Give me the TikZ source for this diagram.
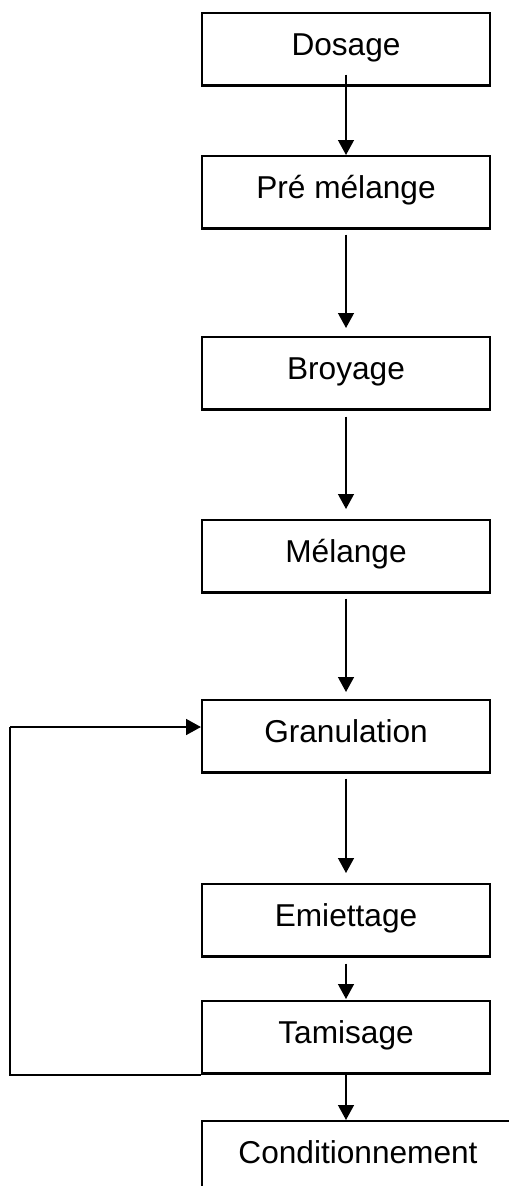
\documentclass[tikz,border=0pt]{standalone}
\usepackage{fontspec}
\setmainfont{Liberation Sans}
\usetikzlibrary{arrows.meta}
\newcommand{\boxfont}{\fontsize{18}{21.6}\selectfont}
\begin{document}
\begin{tikzpicture}[
  x=0.02cm, y=-0.02cm,
  stepbox/.style={draw, line width=1.2pt, minimum width=5.76cm, minimum height=1.45cm,
    inner sep=0pt, font=\boxfont, text height=12pt, text depth=4.6pt, anchor=north},
  arr/.style={line width=1pt, -{Triangle[width=9pt,length=8.5pt]}},
  link/.style={line width=1.2pt}
]
\useasboundingbox (0,0) rectangle (509,1186);
\clip (0,0) rectangle (509,1186);

% process steps
\node[stepbox] (dos) at (346,12)   {Dosage};
\node[stepbox] (pre) at (346,155)  {Pré mélange};
\node[stepbox] (bro) at (346,336)  {Broyage};
\node[stepbox] (mel) at (346,519)  {Mélange};
\node[stepbox] (gra) at (346,699)  {Granulation};
\node[stepbox] (emi) at (346,883)  {Emiettage};
\node[stepbox] (tam) at (346,1000) {Tamisage};
\node[stepbox, minimum width=6.24cm] (con) at (358,1120) {Conditionnement};

% main flow
\draw[arr] ([yshift=0.24cm]dos.south) -- (pre.north);
\draw[arr] ([yshift=-0.1cm]pre.south) -- ([yshift=0.16cm]bro.north);
\draw[arr] ([yshift=-0.12cm]bro.south) -- ([yshift=0.2cm]mel.north);
\draw[arr] ([yshift=-0.1cm]mel.south) -- ([yshift=0.14cm]gra.north);
\draw[arr] ([yshift=-0.1cm]gra.south) -- ([yshift=0.2cm]emi.north);
\draw[arr] ([yshift=-0.12cm]emi.south) -- ([yshift=0.02cm]tam.north);
\draw[arr] (tam.south) -- (tam.south |- con.north);

% recycling loop from sieving back to granulation
\coordinate (loop) at (10,727);
\draw[link] (tam.south west) -- (tam.south west -| loop) -- (loop);
\draw[arr, line width=1.2pt] (loop) -- (loop -| gra.west);
\end{tikzpicture}
\end{document}
